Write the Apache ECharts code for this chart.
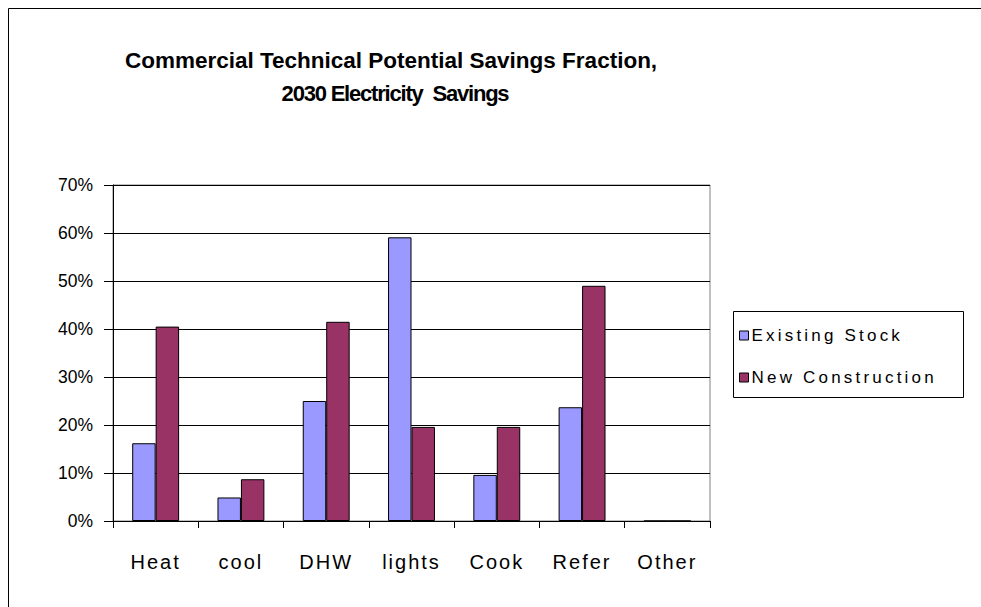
<!DOCTYPE html>
<html>
<head>
<meta charset="utf-8">
<script src="https://cdn.jsdelivr.net/npm/echarts@6/dist/echarts.min.js"></script>
<style>
  html, body { margin: 0; padding: 0; background: #fff; }
  #chart { width: 981px; height: 607px; }
  /* tracking per text role (selected by font size) */
  #chart text[style*="20px"] { letter-spacing: 2px; }
  #chart text[style*="17px"] { letter-spacing: 3.2px; }
  #chart text[style*="22px"] { letter-spacing: -1.2px; }
</style>
</head>
<body>
<div id="chart"></div>
<script>
// End uses along the category axis
const categories = ['Heat', 'cool', 'DHW', 'lights', 'Cook', 'Refer', 'Other'];
// Savings fraction by end use (fractions of 1)
const existingStock = [0.162, 0.049, 0.250, 0.591, 0.096, 0.237, 0];
const newConstruction = [0.405, 0.087, 0.415, 0.196, 0.196, 0.490, 0];
const seriesNames = ['Existing Stock', 'New Construction'];
const titleLines = ['Commercial Technical Potential Savings Fraction,', '2030 Electricity  Savings'];

const FONT = 'Liberation Sans, Arial, sans-serif';
const chart = echarts.init(document.getElementById('chart'), null, { renderer: 'svg' });

chart.setOption({
  animation: false,
  backgroundColor: '#ffffff',
  graphic: [
    // outer chart frame
    { type: 'rect', shape: { x: 8.5, y: 8.5, width: 1000, height: 700 },
      style: { fill: 'none', stroke: '#000', lineWidth: 1 }, z: 0 },
    { type: 'text', x: 391, y: 60,
      style: { text: titleLines[0], fontFamily: FONT, fontWeight: 'bold', fontSize: 22.5, fill: '#000', align: 'center', verticalAlign: 'middle' } },
    { type: 'text', x: 395, y: 93,
      style: { text: titleLines[1], fontFamily: FONT, fontWeight: 'bold', fontSize: 22, fill: '#000', align: 'center', verticalAlign: 'middle' } },
    // legend frame
    { type: 'rect', shape: { x: 733.5, y: 311.5, width: 230, height: 86 },
      style: { fill: '#fff', stroke: '#000', lineWidth: 1 }, z: 1 }
  ],
  legend: {
    orient: 'vertical',
    left: 734,
    top: 322,
    itemGap: 25,
    itemWidth: 9,
    itemHeight: 9,
    icon: 'rect',
    itemStyle: { borderColor: '#000', borderWidth: 1 },
    textStyle: { fontFamily: FONT, fontSize: 17, color: '#000', padding: [0, 0, 0, -2] },
    data: seriesNames,
    z: 5
  },
  grid: {
    left: 113, top: 185, right: 271, bottom: 86,
    show: true, borderColor: '#808080', borderWidth: 1, backgroundColor: 'transparent'
  },
  xAxis: {
    type: 'category',
    data: categories,
    axisLine: { lineStyle: { color: '#000', width: 1 } },
    axisTick: { show: true, length: 7, lineStyle: { color: '#000' } },
    axisLabel: { fontFamily: FONT, fontSize: 20, color: '#000', margin: 31 }
  },
  yAxis: {
    type: 'value',
    min: 0, max: 0.7, interval: 0.1,
    axisLine: { show: true, lineStyle: { color: '#000', width: 1 } },
    axisTick: { show: true, length: 9, lineStyle: { color: '#000' } },
    splitLine: { lineStyle: { color: '#000', width: 1 } },
    axisLabel: {
      fontFamily: FONT, fontSize: 17.5, color: '#000', margin: 20,
      formatter: v => Math.round(v * 100) + '%'
    }
  },
  series: [
    { name: seriesNames[0], type: 'bar', data: existingStock,
      barGap: '0%', barCategoryGap: '45%',
      itemStyle: { color: '#9999ff', borderColor: '#000', borderWidth: 1 } },
    { name: seriesNames[1], type: 'bar', data: newConstruction,
      barGap: '0%', barCategoryGap: '45%',
      itemStyle: { color: '#993366', borderColor: '#000', borderWidth: 1 } }
  ]
});
</script>
</body>
</html>
